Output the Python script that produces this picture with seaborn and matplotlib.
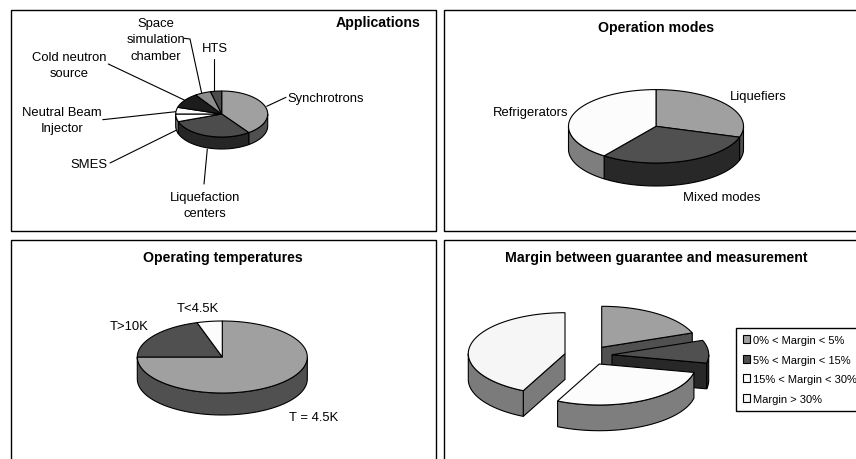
import numpy as np
import matplotlib
matplotlib.use('Agg')
import matplotlib.pyplot as plt
from matplotlib.patches import Polygon, Rectangle
import seaborn as sns

# values, percent per slice, clockwise from 12 o'clock
app_labels = ['Synchrotrons', 'Liquefaction\ncenters', 'SMES', 'Neutral Beam\nInjector',
              'Cold neutron\nsource', 'Space\nsimulation\nchamber', 'HTS']
app_values = [40.0, 29.6, 5.4, 4.7, 10.8, 5.6, 3.9]
mode_labels = ['Liquefiers', 'Mixed modes', 'Refrigerators']
mode_values = [29.8, 30.3, 39.9]
temp_labels = ['T = 4.5K', 'T>10K', 'T<4.5K']
temp_values = [75.0, 20.2, 4.8]
margin_labels = ['0% < Margin < 5%', '5% < Margin < 15%', '15% < Margin < 30%', 'Margin > 30%']
margin_values = [19.3, 9.0, 28.8, 42.9]

sns.set_theme(style='white')
plt.rcParams['font.family'] = ['Liberation Sans', 'DejaVu Sans']
plt.rcParams['text.color'] = 'black'

app_cols = sns.color_palette(['#a0a0a0', '#4c4c4c', '#ffffff', '#fcfcfc', '#1c1c1c', '#8e8e8e', '#4c4c4c'])
mode_cols = sns.color_palette(['#a0a0a0', '#505050', '#fcfcfc'])
temp_cols = sns.color_palette(['#a0a0a0', '#505050', '#fcfcfc'])
margin_cols = sns.color_palette(['#a0a0a0', '#505050', '#fcfcfc', '#f6f6f6'])

LABEL = 9.4
TITLE = 10.2
LW = 0.8


def pt(cx, cy, rx, ry, t):
    # t in radians, clockwise from the top
    return cx + rx * np.sin(t), cy - ry * np.cos(t)


def pie3d(ax, values, cols, cx, cy, rx, ry, depth, offsets=None, order=None):
    edges = np.radians(np.cumsum([0] + list(values)) * 3.6)
    n = len(values)
    exploded = offsets is not None
    if offsets is None:
        offsets = [(0, 0)] * n
    if order is None:
        order = range(n)
    for rank, i in enumerate(order):
        a, b = edges[i], edges[i + 1]
        x0 = cx + offsets[i][0]
        y0 = cy + offsets[i][1]
        side = tuple(c * 0.5 for c in cols[i])
        zw = 2 + 2 * rank if exploded else 2
        zt = 3 + 2 * rank if exploded else 3
        # cut faces only show when the slice is pulled out
        if exploded:
            for e, norm in ((a, a - np.pi / 2), (b, b + np.pi / 2)):
                if np.cos(norm) < 0:
                    x1, y1 = pt(x0, y0, rx, ry, e)
                    ax.add_patch(Polygon([(x0, y0), (x1, y1), (x1, y1 + depth), (x0, y0 + depth)],
                                         fc=side, ec='black', lw=LW, zorder=zw))
        # outer wall, front half only
        lo, hi = max(a, np.pi / 2), min(b, 3 * np.pi / 2)
        if hi > lo:
            t = np.linspace(lo, hi, 60)
            xs, ys = pt(x0, y0, rx, ry, t)
            wall = np.r_[np.c_[xs, ys], np.c_[xs, ys + depth][::-1]]
            ax.add_patch(Polygon(wall, fc=side, ec='black', lw=LW, zorder=zw))
        t = np.linspace(a, b, 120)
        xs, ys = pt(x0, y0, rx, ry, t)
        ax.add_patch(Polygon(np.r_[[(x0, y0)], np.c_[xs, ys]], fc=cols[i], ec='black', lw=LW, zorder=zt))


fig = plt.figure(figsize=(8.56, 4.6), dpi=100)
ax = fig.add_axes([0, 0, 1, 1])
ax.set_xlim(0, 856)
ax.set_ylim(460, 0)
ax.axis('off')

for x, y, w, h in [(11, 10.7, 425, 221.6), (443.7, 10.7, 430, 221.6),
                   (11, 240.7, 425, 240), (443.7, 240.7, 430, 240)]:
    ax.add_patch(Rectangle((x, y), w, h, fc='white', ec='black', lw=1.0, zorder=1))

# Applications
pie3d(ax, app_values, app_cols, 221.7, 115, 46, 23, 12)
ax.text(378.3, 23.3, 'Applications', fontsize=TITLE, fontweight='bold', ha='center', va='center')
leaders = [[(266.7, 107.3), (286, 98.3)], [(207.3, 150), (204, 185)], [(176.7, 131), (110, 164)],
           [(175.7, 112.7), (102.7, 120.7)], [(184.3, 101), (108.3, 65)],
           [(201.7, 94.3), (190, 40), (184, 39.3)], [(214.3, 92.3), (214.3, 60)]]
app_pos = [(287, 99, 'left'), (204.7, 206.2, 'center'), (89.3, 165, 'center'), (61.7, 121, 'center'),
           (69, 66, 'center'), (156, 40, 'center'), (215, 49.3, 'center')]
for lab, line, (x, y, ha) in zip(app_labels, leaders, app_pos):
    ax.plot(*zip(*line), color='black', lw=LW, zorder=1.5)
    ax.text(x, y, lab, fontsize=LABEL, ha=ha, va='center', linespacing=1.5, zorder=6)

# Operation modes
pie3d(ax, mode_values, mode_cols, 656, 127.3, 87.5, 36.7, 23)
ax.text(656.3, 28.3, 'Operation modes', fontsize=TITLE, fontweight='bold', ha='center', va='center')
for lab, x, y in zip(mode_labels, [758, 722, 530.3], [97.3, 198.3, 113.3]):
    ax.text(x, y, lab, fontsize=LABEL, ha='center', va='center', zorder=6)

# Operating temperatures
pie3d(ax, temp_values, temp_cols, 222.3, 358, 85, 36, 22)
ax.text(222.7, 258.3, 'Operating temperatures', fontsize=TITLE, fontweight='bold', ha='center', va='center')
for lab, x, y in zip(temp_labels, [313.3, 129.3, 197.7], [417.7, 327.3, 309]):
    ax.text(x, y, lab, fontsize=LABEL, ha='center', va='center', zorder=6)

# Margin, pulled-out slices
pie3d(ax, margin_values, margin_cols, 601.7, 348.3, 96.7, 41, 25.7,
      offsets=[(0, 0), (10.3, 7.4), (-2.4, 16.7), (-36.7, 6.4)], order=[0, 3, 1, 2])
ax.text(656.3, 258.3, 'Margin between guarantee and measurement', fontsize=TITLE, fontweight='bold',
        ha='center', va='center')
handles = [Rectangle((0, 0), 1, 1, fc=c, ec='black', lw=LW) for c in margin_cols]
leg = ax.legend(handles, margin_labels, loc='upper left', bbox_to_anchor=(736 / 856, 1 - 329.3 / 460),
                bbox_transform=ax.transAxes, fontsize=8.05, fancybox=False, framealpha=1, edgecolor='black',
                borderaxespad=0, borderpad=0.62, handlelength=0.62, handleheight=0.7, handletextpad=0.25,
                labelspacing=0.85)
leg.get_frame().set_linewidth(1.0)
leg.set_zorder(20)

fig.savefig('out.png', dpi=100)
